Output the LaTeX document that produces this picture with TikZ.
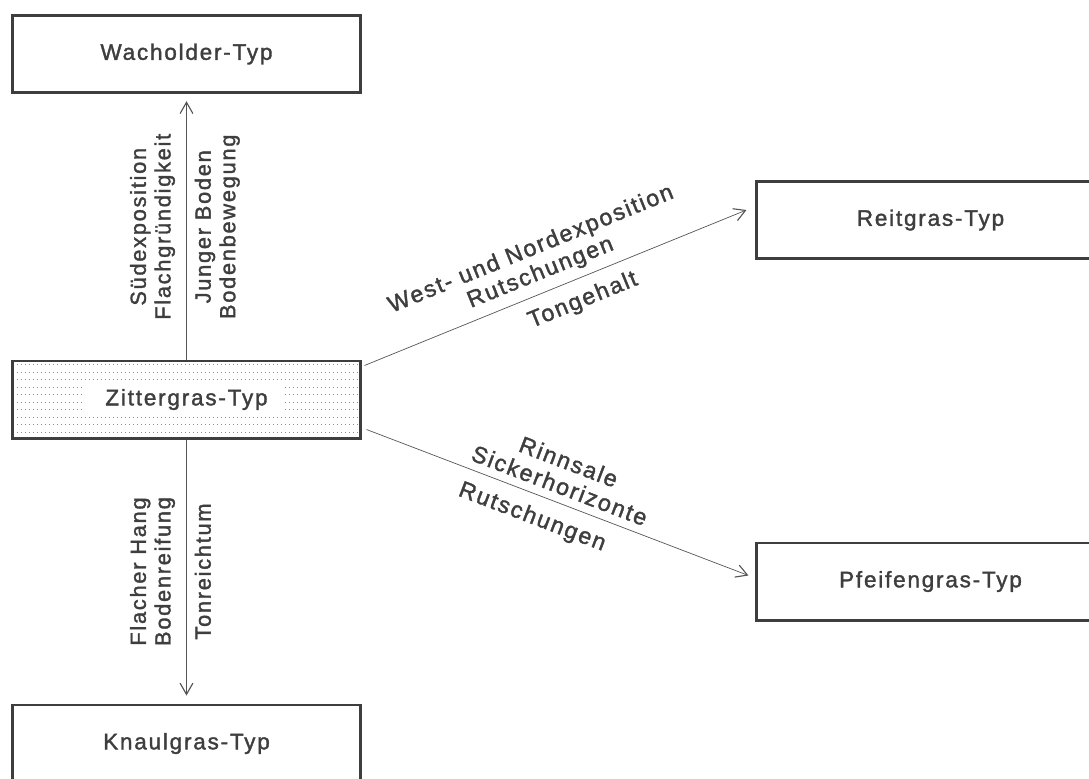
\documentclass[tikz,border=0pt]{standalone}
\usepackage{fontspec}
\setmainfont{Liberation Sans}[LetterSpace=8, FakeBold=1.6]
\usepackage{xcolor}
\definecolor{ink}{HTML}{3E3E3E}
\definecolor{linegray}{HTML}{555555}
\definecolor{dotgray}{HTML}{8C8C8C}
\usetikzlibrary{positioning, arrows.meta, calc}
\tikzset{
    typbox/.style = {draw=ink, line width=2pt, minimum width=86.8mm,
                     minimum height=19.3mm, text=ink, font=\fontsize{16}{19}\selectfont},
    dotbox/.style = {typbox, path picture={
        \foreach \row in {1,...,10}
            \draw[dotgray, line width=0.7pt, dash pattern=on 0.5pt off 2.35pt]
                ([yshift=-1mm-(\row-1)*1.875mm]path picture bounding box.north west)
                -- ++(90mm,0);
        \fill[white] ([shift={(-0.4mm,0.4mm)}]path picture bounding box.center)
            ++(-25mm,-3.5mm) rectangle ++(50mm,7mm);}},
    arrow/.style = {-{Straight Barb[length=2.8mm, width=3.2mm, line width=0.8pt]},
                    line width=0.5pt, color=linegray},
    backarrow/.style = {{Straight Barb[length=2.8mm, width=3.2mm, line width=0.8pt]}-,
                        line width=0.5pt, color=linegray},
    lbl/.style = {text=ink, align=center, inner sep=0.8mm,
                  font=\fontsize{15.5}{17.5}\selectfont},
    diaglbl/.style = {lbl, font=\fontsize{16.5}{18}\selectfont},
}

\begin{document}
\begin{tikzpicture}[x=0.25mm, y=-0.25mm]
    \useasboundingbox (0,0) rectangle (1089,778);
    \clip (0,0) rectangle (1089,778);
    % Vegetation types
    \node[typbox] (wach) at (186.5,54) {Wacholder-Typ};
    \node[dotbox] (zitt) at (186.5,399.5) {Zittergras-Typ};
    \node[typbox] (knaul) at (186.5,743.5) {Knaulgras-Typ};
    \node[typbox] (reit) at (930.5,220) {Reitgras-Typ};
    \node[typbox] (pfeif) at (930.5,581.5) {Pfeifengras-Typ};
    % Up to Wacholder
    \draw[arrow, shorten >=1.8mm] (zitt.north) -- (wach.south)
          node[lbl, midway, sloped, above=2mm] {Südexposition\\Flachgründigkeit}
          node[lbl, midway, sloped, below=1.2mm] {Junger Boden\\Bodenbewegung};
    % Down to Knaulgras
    \draw[backarrow, shorten <=2mm] (knaul.north) -- (zitt.south)
          node[lbl, midway, sloped, above=2mm] {Flacher Hang\\Bodenreifung}
          node[lbl, midway, sloped, below=1.2mm] {Tonreichtum};
    % To Reitgras
    \draw[arrow] ([shift={(3,6)}]zitt.north east) -- ([shift={(-9,-10)}]reit.west)
          node[diaglbl, pos=0.48, sloped, above=1.2mm] {West- und Nordexposition\\Rutschungen}
          node[diaglbl, pos=0.55, sloped, below=2mm] {Tongehalt};
    % To Pfeifengras
    \draw[arrow] ([shift={(5,-10)}]zitt.south east) -- ([shift={(-7,-6)}]pfeif.west)
          node[diaglbl, pos=0.49, sloped, above=1.2mm] {Rinnsale\\Sickerhorizonte}
          node[diaglbl, pos=0.455, sloped, below=2.2mm] {Rutschungen};
\end{tikzpicture}
\end{document}
